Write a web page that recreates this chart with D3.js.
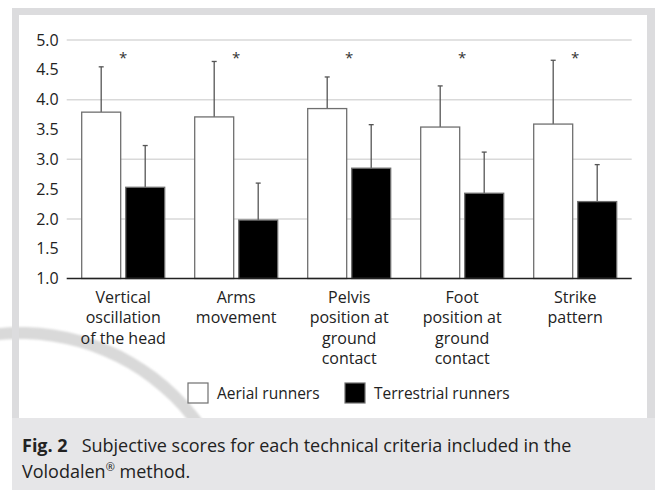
<!DOCTYPE html>
<html>
<head>
<meta charset="utf-8">
<script src="https://cdn.jsdelivr.net/npm/d3@7"></script>
<style>
  html, body { margin: 0; padding: 0; background: #fff; }
  svg { display: block; font-family: "Open Sans", "Noto Sans", sans-serif; }
</style>
</head>
<body>
<svg id="chart" width="655" height="492"></svg>
<script>
// Volodalen criteria and mean ± SD scores for the two runner profiles
const categories = [
  ["Vertical", "oscillation", "of the head"],
  ["Arms", "movement"],
  ["Pelvis", "position at", "ground", "contact"],
  ["Foot", "position at", "ground", "contact"],
  ["Strike", "pattern"]
];
const seriesNames = ["Aerial runners", "Terrestrial runners"];
const aerialMean = [3.79, 3.71, 3.85, 3.54, 3.59];
const aerialSD = [0.76, 0.93, 0.53, 0.69, 1.07];
const terrestrialMean = [2.53, 1.98, 2.85, 2.43, 2.29];
const terrestrialSD = [0.70, 0.62, 0.73, 0.69, 0.62];
const significant = [true, true, true, true, true];
const yTicks = [1.0, 1.5, 2.0, 2.5, 3.0, 3.5, 4.0, 4.5, 5.0];

const svg = d3.select("#chart");

const defs = svg.append("defs");
defs.append("clipPath").attr("id", "upper").append("rect")
  .attr("x", 0).attr("y", 0).attr("width", 655).attr("height", 418);
defs.append("filter").attr("id", "soft").append("feGaussianBlur").attr("stdDeviation", 1.2);

// Background faint arc (publisher watermark), sitting under the frame
svg.append("g").attr("clip-path", "url(#upper)")
  .append("path")
  .attr("d", d3.arc()({ innerRadius: 214, outerRadius: 226, startAngle: -0.6, endAngle: 1.4 }))
  .attr("transform", "translate(20,553)")
  .attr("fill", "#d9d9d9")
  .attr("filter", "url(#soft)");

// Frame, white chart panel and caption box
svg.append("path")
  .attr("fill-rule", "evenodd")
  .attr("fill", "#dcdcde")
  .attr("d", "M12,8H655V418H12Z M19,15V418H647V15Z");
svg.append("rect").attr("x", 12).attr("y", 418).attr("width", 643).attr("height", 72).attr("fill", "#e6e6e8");

// Scales
const x0 = d3.scaleBand().domain(d3.range(categories.length)).range([66.7, 631.7]).padding(0);
const x1 = d3.scaleBand().domain(seriesNames).range([15, 98]).paddingInner(0.114);
const y = d3.scaleLinear().domain([1, 5]).range([278.5, 40]);

// Horizontal gridlines
svg.append("g").selectAll("line").data(yTicks.filter(t => t > 1 && Number.isInteger(t)))
  .join("line")
  .attr("x1", 66.7).attr("x2", 631.7)
  .attr("y1", d => y(d)).attr("y2", d => y(d))
  .attr("stroke", "#d9d9d9").attr("stroke-width", 1.5);

// Y axis labels
const yAxis = d3.axisLeft(y).tickValues(yTicks).tickFormat(d3.format(".1f")).tickSize(0).tickPadding(8);
const yg = svg.append("g").attr("transform", "translate(66.7,0)").call(yAxis);
yg.select(".domain").remove();
yg.selectAll("text").attr("font-size", 16).attr("fill", "#222").attr("font-family", "Open Sans, sans-serif");

// Bars
const rows = categories.map((c, i) => ({
  i,
  vals: [
    { s: seriesNames[0], m: aerialMean[i], sd: aerialSD[i] },
    { s: seriesNames[1], m: terrestrialMean[i], sd: terrestrialSD[i] }
  ]
}));
const fills = { "Aerial runners": "#ffffff", "Terrestrial runners": "#000000" };

const groups = svg.append("g").selectAll("g").data(rows).join("g")
  .attr("transform", d => `translate(${x0(d.i)},0)`);

// Error bars (upper SD only)
groups.selectAll("line.err").data(d => d.vals).join("line").attr("class", "err")
  .attr("x1", d => x1(d.s) + x1.bandwidth() / 2).attr("x2", d => x1(d.s) + x1.bandwidth() / 2)
  .attr("y1", d => y(d.m)).attr("y2", d => y(d.m + d.sd))
  .attr("stroke", "#555").attr("stroke-width", 1.3);
groups.selectAll("line.cap").data(d => d.vals).join("line").attr("class", "cap")
  .attr("x1", d => x1(d.s) + x1.bandwidth() / 2 - 2.5).attr("x2", d => x1(d.s) + x1.bandwidth() / 2 + 2.5)
  .attr("y1", d => y(d.m + d.sd)).attr("y2", d => y(d.m + d.sd))
  .attr("stroke", "#555").attr("stroke-width", 1.3);

groups.selectAll("rect").data(d => d.vals).join("rect")
  .attr("x", d => x1(d.s)).attr("width", x1.bandwidth())
  .attr("y", d => y(d.m)).attr("height", d => y(1) - y(d.m))
  .attr("fill", d => fills[d.s])
  .attr("stroke", "#6f6f6f").attr("stroke-width", 1.3);

// Significance markers
groups.filter(d => significant[d.i]).append("text")
  .attr("x", x0.bandwidth() / 2).attr("y", y(4.72) + 6)
  .attr("text-anchor", "middle").attr("font-size", 15).attr("fill", "#333")
  .text("*");

// Baseline axis
svg.append("line").attr("x1", 66.7).attr("x2", 631.7).attr("y1", y(1)).attr("y2", y(1))
  .attr("stroke", "#222").attr("stroke-width", 1.5);

// Category labels
const xl = svg.append("g").selectAll("text").data(rows).join("text")
  .attr("x", d => x0(d.i) + x0.bandwidth() / 2)
  .attr("y", 302.5).attr("text-anchor", "middle")
  .attr("font-size", 16).attr("fill", "#222");
xl.selectAll("tspan").data(d => categories[d.i]).join("tspan")
  .attr("x", function () { return d3.select(this.parentNode).attr("x"); })
  .attr("dy", (d, j) => j === 0 ? 0 : 20.5)
  .text(d => d);

// Legend
const legend = svg.append("g");
const legendX = [188, 345];
seriesNames.forEach((s, i) => {
  legend.append("rect").attr("x", legendX[i]).attr("y", 383).attr("width", 20).attr("height", 20)
    .attr("fill", fills[s]).attr("stroke", "#6f6f6f").attr("stroke-width", 1.2);
  legend.append("text").attr("x", legendX[i] + 29).attr("y", 398.5)
    .attr("font-size", 15.5).attr("fill", "#222").text(s);
});

// Caption
const cap = svg.append("text").attr("x", 22).attr("y", 452).attr("font-size", 18).attr("fill", "#222");
cap.append("tspan").attr("font-weight", "bold").text("Fig. 2");
cap.append("tspan").attr("dx", 14).text("Subjective scores for each technical criteria included in the");
const cap2 = svg.append("text").attr("x", 22).attr("y", 478).attr("font-size", 18).attr("fill", "#222");
cap2.append("tspan").text("Volodalen");
cap2.append("tspan").attr("font-size", 11).attr("dy", -7).text("®");
cap2.append("tspan").attr("dy", 7).text(" method.");
</script>
</body>
</html>
